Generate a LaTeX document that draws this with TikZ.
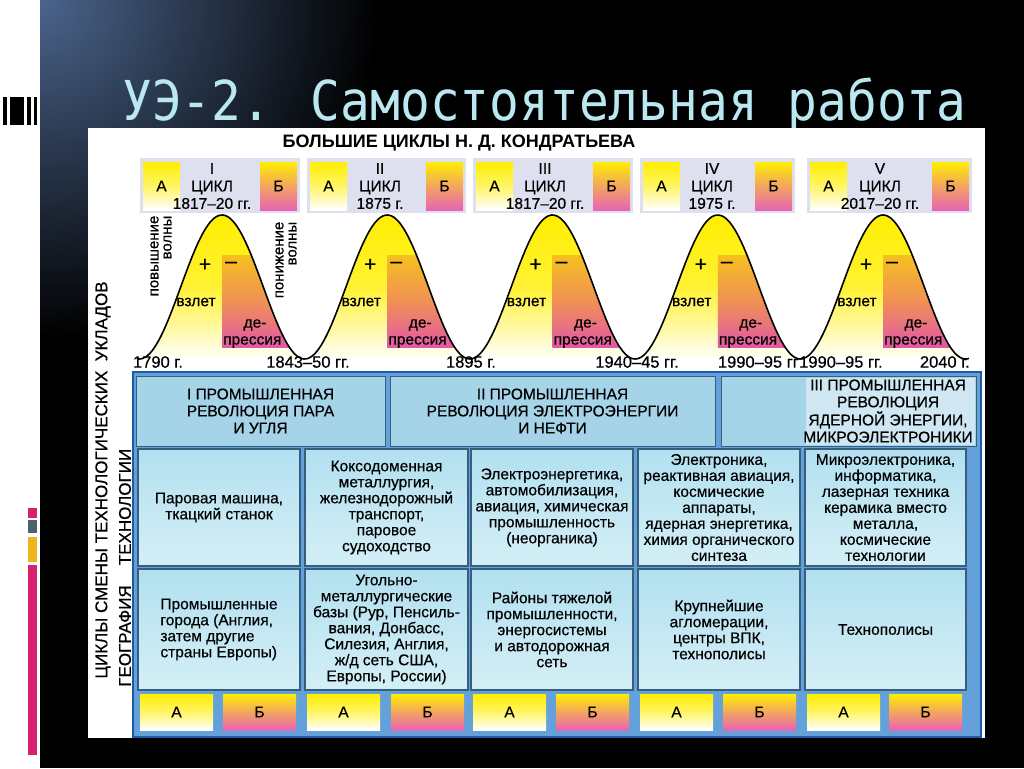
\documentclass[tikz,border=0pt]{standalone}
\usepackage{fontspec}
\setmainfont{Liberation Sans}
\newfontfamily\medfont{Liberation Sans}[FakeBold=0.5]
\newfontfamily\titlefont{DejaVu Sans Mono}[FakeStretch=0.9]
\usetikzlibrary{positioning}

\definecolor{yl}{RGB}{255,238,0}
\definecolor{pnk}{RGB}{232,100,180}
\definecolor{orng}{RGB}{242,165,95}
\definecolor{dep1}{RGB}{246,192,30}
\definecolor{dep2}{RGB}{240,145,85}
\definecolor{dep3}{RGB}{226,88,165}
\definecolor{bandc}{RGB}{222,224,240}
\definecolor{tabframe}{RGB}{30,90,170}
\definecolor{framefill}{RGB}{100,160,218}
\definecolor{headfill}{RGB}{165,212,232}
\definecolor{cellA}{RGB}{178,224,240}
\definecolor{cellB}{RGB}{212,239,246}
\definecolor{celledge}{RGB}{55,95,125}
\definecolor{titlec}{RGB}{185,232,240}
\definecolor{glow}{RGB}{75,100,140}
\definecolor{barpink}{RGB}{214,32,112}
\definecolor{bargray}{RGB}{82,96,106}
\definecolor{barorange}{RGB}{240,180,30}

\newcommand{\fs}{\medfont\fontsize{15.5}{16}\selectfont}
\newcommand{\hf}{\medfont\fontsize{15.5}{17}\selectfont}

\begin{document}
\begin{tikzpicture}[x=1pt, y=-1pt,
    declare function={wy(\t)=287-72*cos(2.178517*(\t-222));},
    lbl/.style={font=\fs, align=center, inner sep=0pt},
    datelbl/.style={lbl, font=\medfont\fontsize{16.5}{18}\selectfont},
    abox/.style={inner sep=0pt, minimum width=37pt, minimum height=48pt, font=\fs,
      top color=yl, bottom color=white, middle color=yl!60!white},
    bbox/.style={abox, top color=yl, bottom color=pnk, middle color=orng},
    headbox/.style={draw=celledge, line width=1pt, fill=headfill, inner sep=0pt,
      minimum height=70pt, font=\hf, align=center},
    cellbox/.style={draw=celledge, line width=1.1pt, top color=cellA, bottom color=cellB,
      inner sep=0pt, font=\fs, align=center},
    side/.style={font=\medfont\fontsize{17}{18}\selectfont, rotate=90, inner sep=0pt}
]
\useasboundingbox (0,0) rectangle (1024,768);

% slide background
\fill[white] (0,0) rectangle (1024,768);
\fill[black] (40,0) rectangle (1024,768);
\begin{scope}
  \clip (40,0) rectangle (1024,768);
  \shade[inner color=glow, outer color=black] (40,0) circle (340);
\end{scope}
\foreach \l/\r in {3/7, 10/24, 27/31, 34/37}
  \fill[black] (\l,97) rectangle (\r,125);
\fill[barpink] (28,508) rectangle (37,518);
\fill[bargray] (28,520) rectangle (37,533);
\fill[barorange] (28,537) rectangle (37,562);
\fill[barpink] (28,565) rectangle (37,755);

\node[font=\titlefont\fontsize{55}{60}\selectfont, text=titlec, anchor=base west, inner sep=0pt]
  (title) at (122,120) {УЭ-2. Самостоятельная работа};

% page
\fill[white] (88,128) rectangle (985,738);
\node[font=\bfseries\fontsize{18}{20}\selectfont, inner sep=0pt] (head) at (459,143)
  {БОЛЬШИЕ ЦИКЛЫ Н. Д. КОНДРАТЬЕВА};

% cycle headers
\foreach \a/\c/\b/\n/\d [count=\i] in {143/212/260/I/1817–20 гг., 310/380/426/II/1875 г.,
    476/545/593/III/1817–20 гг., 643/712/755/IV/1975 г., 810/880/932/V/2017–20 гг.}{
  \fill[bandc] (\a-3,158) rectangle (\b+40,213);
  \node[abox] (a\i) at (\a+18.5,186) {А};
  \node[bbox] (b\i) at (\b+18.5,186) {Б};
  \node[lbl, font=\medfont\fontsize{15.5}{17.5}\selectfont] (cyc\i) at (\c,186) {\n\\ЦИКЛ\\\d};
}

% waves
\foreach \p in {222,387.25,552.5,717.75,883}{
  \begin{scope}
    \clip plot[domain=\p-82.6:\p+82.6, samples=80] (\x,{wy(\x)}) -- cycle;
    \shade[top color=yl, bottom color=white, middle color=yl!80!white] (\p-83,214) rectangle (\p+83,360);
    \shade[top color=dep1, bottom color=dep3, middle color=dep2] (\p,255) rectangle (\p+83,347);
  \end{scope}
}
\draw[line width=1.6pt] plot[domain=137:969, samples=400] (\x,{wy(\x)});

\foreach \p [count=\i] in {222,387.25,552.5,717.75,883}{
  \node[font=\medfont\fontsize{21}{21}\selectfont, inner sep=0pt] (plus\i) at (\p-17,265) {+};
  \node[font=\medfont\fontsize{21}{21}\selectfont, inner sep=0pt] (minus\i) at (\p+9,265) {–};
  \node[lbl] (up\i) at (\p-26,302) {взлет};
  \node[lbl] (de\i) at (\p+33,325) {де-};
  \node[lbl, anchor=west] (dep\i) at (\p+1,342) {прессия};
}
\node[side, align=right, font=\medfont\fontsize{15}{13}\selectfont] (rise) at (161,256) {повышение\\волны};
\node[side, align=right, font=\medfont\fontsize{15}{13}\selectfont] (fall) at (286,260) {понижение\\волны};

% dates
\node[datelbl] (d1) at (158,362) {1790 г.};
\node[datelbl] (d2) at (308,362) {1843–50 гг.};
\node[datelbl] (d3) at (471,362) {1895 г.};
\node[datelbl] (d4) at (637,362) {1940–45 гг.};
\node[datelbl, anchor=east] (d5) at (799,362) {1990–95 гг};
\node[datelbl, anchor=west] (d6) at (799,362) {1990–95 гг.};
\node[datelbl, anchor=east] (d7) at (970,362) {2040 г.};

% table
\draw[tabframe, line width=2.5pt, fill=framefill] (133,372) rectangle (981,737);
\node[headbox, minimum width=249pt] (rev1) at (260.5,411) {I ПРОМЫШЛЕННАЯ\\РЕВОЛЮЦИЯ ПАРА\\И УГЛЯ};
\node[headbox, minimum width=325pt] (rev2) at (552.5,411) {II ПРОМЫШЛЕННАЯ\\РЕВОЛЮЦИЯ ЭЛЕКТРОЭНЕРГИИ\\И НЕФТИ};
\node[headbox, minimum width=255pt] (rev3) at (848.5,411) {};
\fill[headfill!55!white] (806,377.5) rectangle (975,444.5);
\node[lbl, font=\hf] (rev3t) at (888,411) {III ПРОМЫШЛЕННАЯ\\РЕВОЛЮЦИЯ\\ЯДЕРНОЙ ЭНЕРГИИ,\\МИКРОЭЛЕКТРОНИКИ};

\node[cellbox, minimum width=162pt, minimum height=117pt] (tech1) at (219,507.5)
  {Паровая машина,\\ткацкий станок};
\node[cellbox, minimum width=163pt, minimum height=117pt] (tech2) at (386.5,507.5)
  {Коксодоменная\\металлургия,\\железнодорожный\\транспорт,\\паровое\\судоходство};
\node[cellbox, minimum width=162pt, minimum height=117pt] (tech3) at (552,507.5)
  {Электроэнергетика,\\автомобилизация,\\авиация, химическая\\промышленность\\(неорганика)};
\node[cellbox, minimum width=162pt, minimum height=117pt] (tech4) at (719,507.5)
  {Электроника,\\реактивная авиация,\\космические\\аппараты,\\ядерная энергетика,\\химия органического\\синтеза};
\node[cellbox, minimum width=161pt, minimum height=117pt] (tech5) at (885.5,507.5)
  {Микроэлектроника,\\информатика,\\лазерная техника\\керамика вместо\\металла,\\космические\\технологии};

\node[cellbox, align=left, minimum width=162pt, minimum height=121pt] (geo1) at (219,629.5)
  {Промышленные\\города (Англия,\\затем другие\\страны Европы)};
\node[cellbox, minimum width=163pt, minimum height=121pt] (geo2) at (386.5,629.5)
  {Угольно-\\металлургические\\базы (Рур, Пенсиль-\\вания, Донбасс,\\Силезия, Англия,\\ж/д сеть США,\\Европы, России)};
\node[cellbox, minimum width=162pt, minimum height=121pt] (geo3) at (552,629.5)
  {Районы тяжелой\\промышленности,\\энергосистемы\\и автодорожная\\сеть};
\node[cellbox, minimum width=162pt, minimum height=121pt] (geo4) at (719,629.5)
  {Крупнейшие\\агломерации,\\центры ВПК,\\технополисы};
\node[cellbox, minimum width=161pt, minimum height=121pt] (geo5) at (885.5,629.5)
  {Технополисы};

\foreach \l/\r [count=\i] in {138/300, 305/468, 471/633, 638/800, 805/966}{
  \node[abox, minimum width=73pt, minimum height=36pt] (la\i) at (\l+38.5,712) {А};
  \node[bbox, minimum width=73pt, minimum height=36pt] (lb\i) at (\r-40.5,712) {Б};
}

% side labels
\node[side] (cycles) at (103,480) {ЦИКЛЫ СМЕНЫ ТЕХНОЛОГИЧЕСКИХ\ \ УКЛАДОВ};
\node[side] (techlbl) at (125,507) {ТЕХНОЛОГИИ};
\node[side] (geolbl) at (125,636) {ГЕОГРАФИЯ};
\end{tikzpicture}
\end{document}
